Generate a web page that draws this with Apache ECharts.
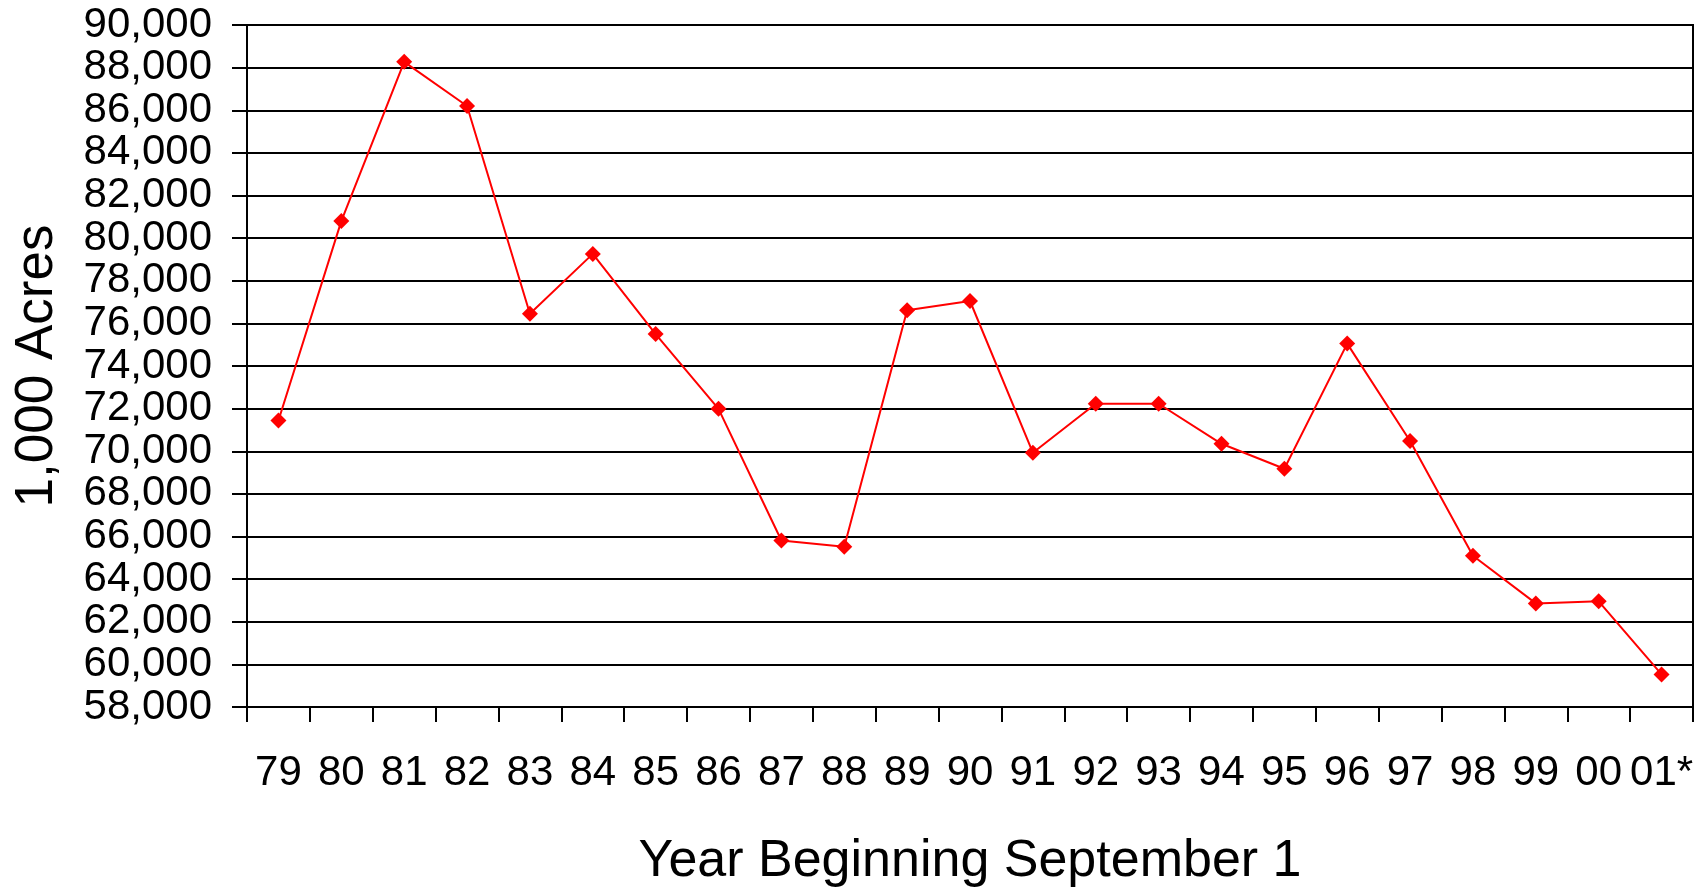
<!DOCTYPE html>
<html>
<head>
<meta charset="utf-8">
<title>1,000 Acres by year</title>
<script src="https://cdn.jsdelivr.net/npm/echarts@6/dist/echarts.min.js"></script>
<style>
  html, body { margin: 0; padding: 0; background: #fff; }
  #chart { width: 1707px; height: 894px; }
</style>
</head>
<body>
<div id="chart"></div>
<script>
// years (Sept 1 start), last one is preliminary
var years = ['79', '80', '81', '82', '83', '84', '85', '86', '87', '88', '89', '90',
  '91', '92', '93', '94', '95', '96', '97', '98', '99', '00', '01*'];
// 1,000 acres
var acres = [71440, 80800, 88270, 86200, 76450, 79260, 75500, 71990, 65810, 65520, 76620, 77050,
  69930, 72230, 72230, 70350, 69180, 75050, 70480, 65100, 62860, 62960, 59530];
var yMin = 58000, yMax = 90000, yStep = 2000;

var font = '"Liberation Sans", Arial, sans-serif';
var myChart = echarts.init(document.getElementById('chart'));

myChart.setOption({
  animation: false,
  textStyle: { fontFamily: font, color: '#000' },
  grid: {
    left: 247, right: 14, top: 25, bottom: 187,
    show: true, borderColor: '#000', borderWidth: 2
  },
  xAxis: {
    type: 'category',
    data: years,
    boundaryGap: true,
    name: 'Year Beginning September 1',
    nameLocation: 'middle',
    nameGap: 129,
    nameTextStyle: { fontSize: 52, color: '#000', fontFamily: font },
    axisLine: { lineStyle: { color: '#000', width: 2 } },
    axisTick: { show: true, length: 15, lineStyle: { color: '#000', width: 2 } },
    axisLabel: { interval: 0, fontSize: 42, margin: 45, color: '#000', fontFamily: font }
  },
  yAxis: {
    type: 'value',
    min: yMin, max: yMax, interval: yStep,
    name: '1,000 Acres',
    nameLocation: 'middle',
    nameGap: 183,
    nameTextStyle: { fontSize: 53, color: '#000', fontFamily: font },
    axisLine: { show: true, lineStyle: { color: '#000', width: 2 } },
    axisTick: { show: true, length: 15, lineStyle: { color: '#000', width: 2 } },
    axisLabel: {
      fontSize: 42, margin: 35, color: '#000', fontFamily: font,
      formatter: function (v) { return echarts.format.addCommas(v); }
    },
    splitLine: { show: true, lineStyle: { color: '#000', width: 2 } }
  },
  series: [{
    type: 'line',
    data: acres,
    symbol: 'diamond',
    symbolSize: 16,
    lineStyle: { color: '#ff0000', width: 2 },
    itemStyle: { color: '#ff0000' }
  }]
});
</script>
</body>
</html>
